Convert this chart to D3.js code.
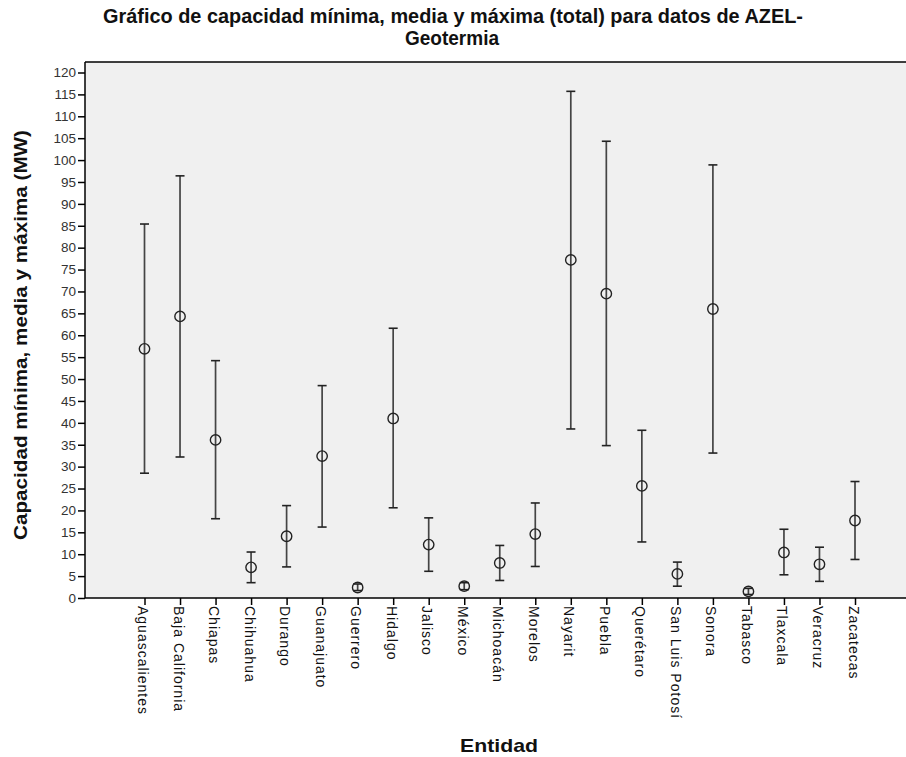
<!DOCTYPE html>
<html>
<head>
<meta charset="utf-8">
<script src="https://cdn.jsdelivr.net/npm/d3@7"></script>
<style>
  html, body { margin: 0; padding: 0; background: #fff; }
  svg { display: block; }
  text { font-family: "Liberation Sans", Arial, sans-serif; }
</style>
</head>
<body>
<svg id="chart" width="906" height="757"></svg>
<script>
// Capacidad mínima, media y máxima por entidad (MW)
const entidades = ["Aguascalientes", "Baja California", "Chiapas", "Chihuahua", "Durango",
  "Guanajuato", "Guerrero", "Hidalgo", "Jalisco", "México", "Michoacán", "Morelos",
  "Nayarit", "Puebla", "Querétaro", "San Luis Potosí", "Sonora", "Tabasco", "Tlaxcala",
  "Veracruz", "Zacatecas"];
const minimos = [28.5, 32.2, 18.1, 3.5, 7.1, 16.2, 1.7, 20.6, 6.1, 1.9, 4.0, 7.2,
  38.6, 34.8, 12.8, 2.7, 33.1, 0.8, 5.3, 3.8, 8.8];
const medias  = [56.9, 64.3, 36.1, 7.0, 14.1, 32.4, 2.4, 41.0, 12.2, 2.7, 8.0, 14.6,
  77.2, 69.5, 25.6, 5.5, 66.0, 1.5, 10.4, 7.7, 17.7];
const maximos = [85.4, 96.4, 54.2, 10.5, 21.1, 48.5, 3.2, 61.6, 18.3, 3.5, 12.0, 21.7,
  115.7, 104.3, 38.3, 8.2, 98.9, 2.2, 15.7, 11.6, 26.6];
const yTicks = d3.range(0, 121, 5);

const svg = d3.select("#chart");
const plot = { left: 85, right: 906, top: 62, bottom: 598 };

const x = d3.scalePoint()
  .domain(entidades)
  .range([144.5, 855]);

const y = d3.scaleLinear()
  .domain([0, 120])
  .range([plot.bottom, 72.5]);

// Plot background
svg.append("rect")
  .attr("x", plot.left).attr("y", plot.top)
  .attr("width", plot.right - plot.left).attr("height", plot.bottom - plot.top)
  .attr("fill", "#f0f0f0");

// Frame: top edge
svg.append("line")
  .attr("x1", plot.left).attr("x2", plot.right)
  .attr("y1", plot.top).attr("y2", plot.top)
  .attr("stroke", "#000").attr("stroke-width", 1.5);

// Y axis
const yAxis = svg.append("g")
  .attr("transform", `translate(${plot.left},0)`)
  .call(d3.axisLeft(y).tickValues(yTicks).tickSize(7).tickPadding(2).tickSizeOuter(0));
yAxis.select(".domain").remove();
yAxis.append("line")
  .attr("x1", 0).attr("x2", 0)
  .attr("y1", plot.top).attr("y2", plot.bottom)
  .attr("stroke", "#000").attr("stroke-width", 1.5);
yAxis.selectAll(".tick line").attr("stroke", "#000").attr("stroke-width", 1.5);
yAxis.selectAll(".tick text")
  .attr("fill", "#333")
  .style("font-size", "13.5px")
  .style("font-family", "'Liberation Sans', Arial, sans-serif");

// X axis
const xAxis = svg.append("g")
  .attr("transform", `translate(0,${plot.bottom})`)
  .call(d3.axisBottom(x).tickSize(7).tickSizeOuter(0));
xAxis.select(".domain").remove();
xAxis.append("line")
  .attr("x1", plot.left).attr("x2", plot.right)
  .attr("y1", 0).attr("y2", 0)
  .attr("stroke", "#000").attr("stroke-width", 1.5);
xAxis.selectAll(".tick line").attr("stroke", "#000").attr("stroke-width", 1.5);
xAxis.selectAll(".tick text")
  .attr("fill", "#111")
  .style("font-size", "14px")
  .style("letter-spacing", "1px")
  .style("font-family", "'Liberation Sans', Arial, sans-serif")
  .attr("text-anchor", "start")
  .attr("transform", "rotate(90)")
  .attr("x", 8)
  .attr("y", 0)
  .attr("dy", "0.5em")
  .attr("dx", 0);

// Error bars (mínimo-máximo) with mean marker
const rows = entidades.map((e, i) => ({ e, lo: minimos[i], mid: medias[i], hi: maximos[i] }));
const capW = 4.5;
const bars = svg.append("g").selectAll("g").data(rows).join("g")
  .attr("transform", d => `translate(${x(d.e)},0)`);

bars.append("line")
  .attr("y1", d => y(d.lo)).attr("y2", d => y(d.hi))
  .attr("stroke", "#444").attr("stroke-width", 1.7);
bars.append("line")
  .attr("x1", -capW).attr("x2", capW)
  .attr("y1", d => y(d.hi)).attr("y2", d => y(d.hi))
  .attr("stroke", "#222").attr("stroke-width", 1.6);
bars.append("line")
  .attr("x1", -capW).attr("x2", capW)
  .attr("y1", d => y(d.lo)).attr("y2", d => y(d.lo))
  .attr("stroke", "#222").attr("stroke-width", 1.6);
bars.append("circle")
  .attr("cy", d => y(d.mid))
  .attr("r", 5.2)
  .attr("fill", "none")
  .attr("stroke", "#222")
  .attr("stroke-width", 1.4);

// Titles
svg.append("text")
  .attr("x", 453).attr("y", 23)
  .attr("text-anchor", "middle")
  .attr("textLength", 700)
  .attr("lengthAdjust", "spacingAndGlyphs")
  .style("font-size", "20px").style("font-weight", "bold")
  .attr("fill", "#111")
  .text("Gráfico de capacidad mínima, media y máxima (total) para datos de AZEL-");
svg.append("text")
  .attr("x", 452).attr("y", 45)
  .attr("text-anchor", "middle")
  .attr("textLength", 94)
  .attr("lengthAdjust", "spacingAndGlyphs")
  .style("font-size", "20px").style("font-weight", "bold")
  .attr("fill", "#111")
  .text("Geotermia");

svg.append("text")
  .attr("transform", `translate(27,${(plot.top + plot.bottom) / 2 + 5}) rotate(-90)`)
  .attr("text-anchor", "middle")
  .attr("textLength", 410)
  .attr("lengthAdjust", "spacingAndGlyphs")
  .style("font-size", "18px").style("font-weight", "bold")
  .attr("fill", "#111")
  .text("Capacidad mínima, media y máxima (MW)");

svg.append("text")
  .attr("x", 499).attr("y", 752)
  .attr("text-anchor", "middle")
  .attr("textLength", 78)
  .attr("lengthAdjust", "spacingAndGlyphs")
  .style("font-size", "19px").style("font-weight", "bold")
  .attr("fill", "#111")
  .text("Entidad");
</script>
</body>
</html>
